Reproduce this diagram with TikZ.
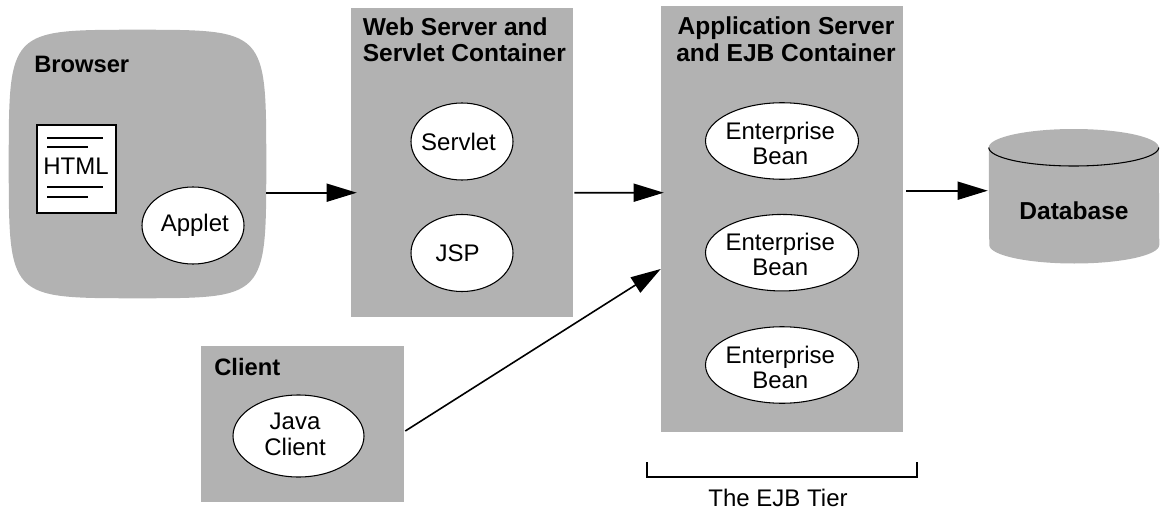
\documentclass[tikz,border=0pt]{standalone}
\usepackage{fontspec}
\setmainfont{Liberation Sans}
\usetikzlibrary{shapes.geometric,arrows.meta,calc}
\definecolor{boxgray}{HTML}{B2B2B2}
\def\px{0.75pt}
\newcommand{\lbl}[2]{\makebox[0pt]{\hspace*{#1}\hspace*{#1}#2}}
\tikzset{
  container/.style={fill=boxgray,draw=none,inner sep=0pt,rectangle},
  boxtitle/.style={inner sep=0pt,font=\fontsize{18.4}{19.9}\selectfont\bfseries},
  smalltitle/.style={inner sep=0pt,font=\fontsize{17.8}{19.9}\selectfont\bfseries},
  comp/.style={ellipse,draw=black,line width=0.8pt,fill=white,inner sep=0pt,align=center,
    font=\fontsize{18}{18.75}\selectfont},
  plain/.style={inner sep=0pt,font=\fontsize{18}{18}\selectfont},
  arr/.style={line width=1.2pt,-{Triangle[length=22.5pt,width=13.5pt]}},
  docline/.style={line width=0.8pt}
}
\begin{document}
\begin{tikzpicture}[x=0.75pt,y=-0.75pt]
\useasboundingbox (0,0) rectangle (1163,510);
% browser
\node[inner sep=0pt,rectangle,minimum width=257*\px,minimum height=268*\px] (browser) at (137.5,164) {};
\fill[boxgray] (browser.north)
  .. controls (browser.north east) and (browser.north east) .. (browser.east)
  .. controls (browser.south east) and (browser.south east) .. (browser.south)
  .. controls (browser.south west) and (browser.south west) .. (browser.west)
  .. controls (browser.north west) and (browser.north west) .. (browser.north) -- cycle;
\node[smalltitle,anchor=base west] (browsertitle) at (34,73) {Browser};
\node[rectangle,draw=black,fill=white,line width=0.9pt,inner sep=0pt,minimum width=79*\px,minimum height=88*\px] (html) at (76.5,169) {};
\draw[docline] (47,138) -- (103,138);
\draw[docline] (47,147) -- (88,147);
\draw[docline] (47,187) -- (103,187);
\draw[docline] (47,197) -- (88,197);
\node[plain,anchor=base] (htmltext) at (76,174) {HTML};
\node[comp,minimum width=102*\px,minimum height=77*\px] (applet) at (193,225.5) {\lbl{1.35pt}{Applet}};
% web
\node[container,minimum width=222*\px,minimum height=309*\px] (web) at (462,162.5) {};
\node[boxtitle,align=left,anchor=north west] (webtitle) at (362.5,17) {Web Server and\\Servlet Container};
\node[comp,minimum width=102*\px,minimum height=77*\px] (servlet) at (462,141.5) {\lbl{-2.6pt}{Servlet}};
\node[comp,minimum width=102*\px,minimum height=77*\px] (jsp) at (462,253) {\lbl{-3.2pt}{JSP}};
% app
\node[container,minimum width=242*\px,minimum height=426*\px] (app) at (782,219) {};
\node[boxtitle,align=center,anchor=north] (apptitle) at (786,16.5) {Application Server\\and EJB Container};
\node[comp,minimum width=153*\px,minimum height=76.5*\px] (ejb1) at (782,141) {\rule{0pt}{16pt}\lbl{-1.3pt}{Enterprise}\\\lbl{-1.3pt}{Bean}};
\node[comp,minimum width=153*\px,minimum height=76.5*\px] (ejb2) at (782,252.7) {\rule{0pt}{16pt}\lbl{-1.3pt}{Enterprise}\\\lbl{-1.3pt}{Bean}};
\node[comp,minimum width=153*\px,minimum height=76.5*\px] (ejb3) at (782,365) {\rule{0pt}{16pt}\lbl{-1.3pt}{Enterprise}\\\lbl{-1.3pt}{Bean}};
% client
\node[container,minimum width=203*\px,minimum height=156*\px] (client) at (302.5,424) {};
\node[smalltitle,anchor=base west] (clienttitle) at (214,375) {Client};
\node[comp,minimum width=131*\px,minimum height=82*\px] (java) at (298.5,436) {\lbl{-2.6pt}{Java}\\[0.75pt]\lbl{-2.6pt}{Client}\rule[-2.25pt]{0pt}{0pt}};
% database
\node[inner sep=0pt,rectangle,minimum width=170*\px,minimum height=134*\px] (db) at (1074,196) {};
\fill[boxgray] (db.west |- 0,147.5) arc[start angle=180,end angle=360,x radius=85,y radius=18.5]
  -- (db.east |- 0,245) arc[start angle=0,end angle=180,x radius=85,y radius=18.5] -- cycle;
\draw[line width=0.8pt] (db.west |- 0,147.5) arc[start angle=180,end angle=0,x radius=85,y radius=18.5];
\node[boxtitle,anchor=base] (dbtitle) at (1074,219) {Database};
% connectors
\draw[arr] ($(browser.east)+(0,28.7)$) -- ($(web.west)+(6,30.2)$);
\draw[arr] ($(web.east)+(1,30.2)$) -- ($(app.west)+(3,-26.3)$);
\draw[arr] ($(client.east)+(1,7)$) -- ($(app.west)+(0,50)$);
\draw[arr] ($(app.east)+(3,-28.3)$) -- ($(db.west)+(-1,-5.3)$);
% tier bracket
\coordinate (tl) at (647,462);
\coordinate (tr) at (917,462);
\draw[line width=0.9pt] (tl) -- (tl |- 0,477) -- (tr |- 0,477) -- (tr);
\node[plain,anchor=base] (tier) at (778,506) {The EJB Tier};
\end{tikzpicture}
\end{document}
